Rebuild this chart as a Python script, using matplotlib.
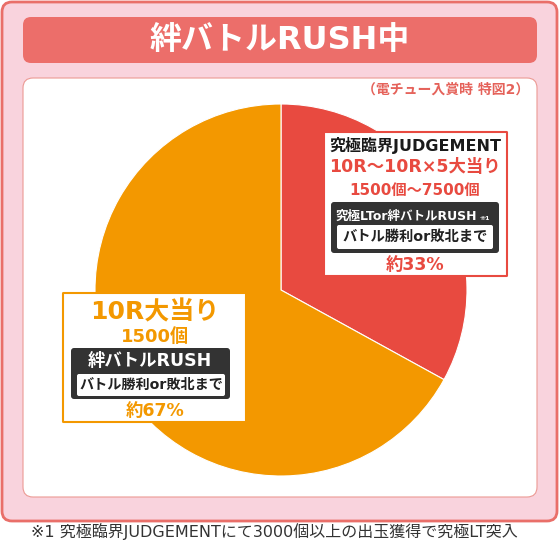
import matplotlib
matplotlib.use('Agg')
import matplotlib.pyplot as plt
from matplotlib.patches import FancyBboxPatch

# wide latin glyphs from DejaVu, kana/kanji fall back to Noto CJK
plt.rcParams['font.family'] = ['DejaVu Sans', 'Noto Sans CJK JP']

# data
labels = ["究極臨界JUDGEMENT", "10R大当り"]
shares = [33, 67]
share_labels = ["約33%", "約67%"]
slice_colors = ["#e84a40", "#f39800"]

title = "絆バトルRUSH中"
note = "（電チュー入賞時 特図2）"
footnote = "※1 究極臨界JUDGEMENTにて3000個以上の出玉獲得で究極LT突入"

W, H = 560, 543
fig = plt.figure(figsize=(W / 100, H / 100), dpi=100)
ax = fig.add_axes([0, 0, 1, 1])


def Y(y):
    # pixel row (from top) to axis coordinate
    return H - y


def rbox(x0, y0, x1, y1, r, fc, ec="none", lw=0, z=1):
    p = FancyBboxPatch((x0, Y(y1)), x1 - x0, y1 - y0,
                       boxstyle="round,pad=0,rounding_size=%g" % r,
                       fc=fc, ec=ec, lw=lw, zorder=z)
    ax.add_patch(p)


def txt(x, y, s, size, color, weight="bold", ha="center", z=6):
    ax.text(x, Y(y), s, fontsize=size, color=color, fontweight=weight,
            ha=ha, va="center", zorder=z)


# frame
rbox(2, 2, 557, 521, 10, "#f9d3dd", "#e96f69", 2, z=0)
rbox(23, 17, 537, 63, 8, "#ec6e6a", z=1)
rbox(23, 78, 537, 497, 10, "white", "#ec9a94", 0.8, z=1)
txt(280, 41, title, 23, "white")
txt(529, 90, note, 10, "#e5625a", ha="right")

# pie
ax.pie(shares, colors=slice_colors, startangle=90, counterclock=False,
       center=(281, Y(290)), radius=186,
       wedgeprops=dict(edgecolor="white", linewidth=0.8, zorder=2))

# label for the red slice
rbox(324, 132, 507, 276, 0.5, "white", "#e84a40", 1.5, z=3)
txt(415, 145, labels[0], 11.5, "#1a1a1a")
txt(415, 167, "10R～10R×5大当り", 12.5, "#e84a40")
txt(415, 190, "1500個～7500個", 11, "#e84a40")
rbox(331, 202, 499, 253, 3, "#333333", z=4)
txt(406, 216, "究極LTor絆バトルRUSH", 9, "white")
txt(485, 219, "※1", 4.5, "white")
rbox(337, 225, 493, 249, 2, "white", z=5)
txt(415, 237, "バトル勝利or敗北まで", 10.3, "#222222")
txt(415, 265, share_labels[0], 12.5, "#e84a40")

# label for the orange slice
rbox(63, 293, 246, 422, 0.5, "white", "#f39800", 1.5, z=3)
txt(155, 312, labels[1], 18, "#f39800")
txt(155, 337, "1500個", 13, "#f39800")
rbox(71, 348, 230, 399, 3, "#333333", z=4)
txt(150, 361, "絆バトルRUSH", 12.5, "white")
rbox(77, 374, 225, 396, 2, "white", z=5)
txt(151, 385, "バトル勝利or敗北まで", 10.2, "#222222")
txt(155, 411, share_labels[1], 12.5, "#f39800")

txt(274, 532, footnote, 11.5, "#333333", weight="normal")

ax.set_xlim(0, W)
ax.set_ylim(0, H)
ax.set_aspect("auto")
ax.axis("off")
fig.savefig("out.png", dpi=100)
